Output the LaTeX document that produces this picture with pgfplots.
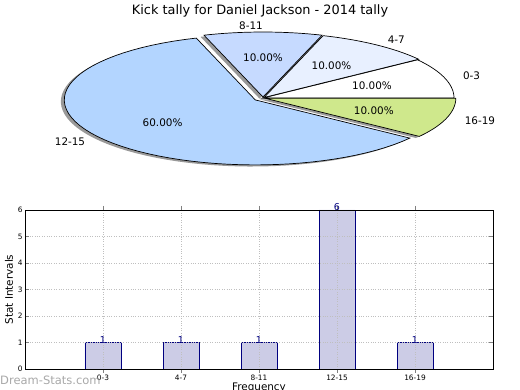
\documentclass[border=0pt]{standalone}
\usepackage{fontspec}
\setmainfont{DejaVu Sans}
\usepackage{pgfplots}
\usepackage{pgfplotstable}
\pgfplotsset{compat=1.18}
\definecolor{c03}{RGB}{255,255,255}
\definecolor{c47}{RGB}{232,240,255}
\definecolor{c811}{RGB}{198,218,255}
\definecolor{c1215}{RGB}{179,213,255}
\definecolor{c1619}{RGB}{207,232,140}
\definecolor{barfill}{RGB}{204,204,230}
\definecolor{baredge}{RGB}{0,0,128}

\pgfplotstableread{
idx count
0 1
1 1
2 1
3 6
4 1
}\bardata

\def\total{10}
% #1 cumulative start count, #2 cumulative end count, #3 explode
\newcommand\shadowslice[3]{%
  \addplot[draw=none, fill=black!40, domain={360*#1/\total}:{360*#2/\total}, samples=60, variable=\t]
   ({#3*cos(180*(#1+#2)/\total)-0.018+cos(\t)}, {#3*sin(180*(#1+#2)/\total)-0.025+sin(\t)})
   -- (axis cs:{#3*cos(180*(#1+#2)/\total)-0.018},{#3*sin(180*(#1+#2)/\total)-0.025}) -- cycle;}
% #4 colour, #5 name, #6 anchor, #7 percent
\newcommand\slice[7]{%
  \addplot[draw=black, line width=0.7pt, fill=#4, domain={360*#1/\total}:{360*#2/\total}, samples=60, variable=\t]
   ({#3*cos(180*(#1+#2)/\total)+cos(\t)}, {#3*sin(180*(#1+#2)/\total)+sin(\t)})
   -- (axis cs:{#3*cos(180*(#1+#2)/\total)},{#3*sin(180*(#1+#2)/\total)}) -- cycle;
  \node[anchor=#6, inner sep=0pt, font=\fontsize{10.4}{12}\selectfont] at (axis cs:{(#3+1.1)*cos(180*(#1+#2)/\total)},{(#3+1.1)*sin(180*(#1+#2)/\total)}) {#5};
  \node[anchor=center, inner sep=0pt, font=\fontsize{10.4}{12}\selectfont] at (axis cs:{(#3+0.6)*cos(180*(#1+#2)/\total)},{(#3+0.6)*sin(180*(#1+#2)/\total)}) {#7};
}

\begin{document}
\begin{tikzpicture}
\useasboundingbox (0,0) rectangle (520pt,390pt);

\node[font=\fontsize{12.9}{15}\selectfont] at (260pt,379pt) {Kick tally for Daniel Jackson - 2014 tally};

\begin{axis}[
  at={(0pt,210pt)}, anchor=south west, scale only axis,
  width=520pt, height=160pt,
  xmin=-1.377, xmax=1.3455, ymin=-1.2615, ymax=1.2,
  hide axis, clip=false]
  \shadowslice{0}{1}{0}
  \shadowslice{1}{2}{0.01}
  \shadowslice{2}{3}{0.015}
  \shadowslice{3}{9}{0.05}
  \shadowslice{9}{10}{0.01}
  \slice{0}{1}{0}{c03}{0-3}{west}{10.00\%}
  \slice{1}{2}{0.01}{c47}{4-7}{west}{10.00\%}
  \slice{2}{3}{0.015}{c811}{8-11}{east}{10.00\%}
  \slice{3}{9}{0.05}{c1215}{12-15}{east}{60.00\%}
  \slice{9}{10}{0.01}{c1619}{16-19}{west}{10.00\%}
\end{axis}

\begin{axis}[
  at={(25pt,21pt)}, anchor=south west, scale only axis,
  width=468pt, height=159pt,
  xmin=-1, xmax=5, ymin=0, ymax=6,
  xtick={0,1,2,3,4}, xticklabels={0-3,4-7,8-11,12-15,16-19},
  ytick={0,1,2,3,4,5,6},
  /pgf/number format/assume math mode=true,
  tick label style={font=\fontsize{7.4}{9}\selectfont},
  xticklabel style={yshift=1.5pt},
  yticklabel style={xshift=1pt},
  tick align=inside, major tick length=4pt,
  xtick pos=both, ytick pos=both,
  grid=major, grid style={dotted, gray!50, line width=0.8pt},
  axis on top,
  axis line style={line width=0.8pt},
  every axis y label/.style={at={(axis description cs:-0.0342,0.5)}, rotate=90, anchor=center, font=\fontsize{10.4}{12}\selectfont},
  every axis x label/.style={at={(axis description cs:0.5,-0.1195)}, anchor=center, font=\fontsize{10.4}{12}\selectfont},
  xlabel={Frequency}, ylabel={Stat Intervals},
  ybar, bar width=36pt,
  nodes near coords,
  every node near coord/.append style={font=\fontsize{9.5}{11}\selectfont, text=baredge, anchor=south, inner sep=0pt, yshift=-1pt},
]
\addplot[fill=barfill, draw=baredge, line width=0.8pt] table[x=idx, y=count] {\bardata};
\end{axis}

\node[anchor=west, inner sep=0pt, text=gray!75, opacity=0.9, font=\fontsize{11.5}{13}\selectfont] at (0pt,10pt) {Dream-Stats.com};
\end{tikzpicture}
\end{document}
